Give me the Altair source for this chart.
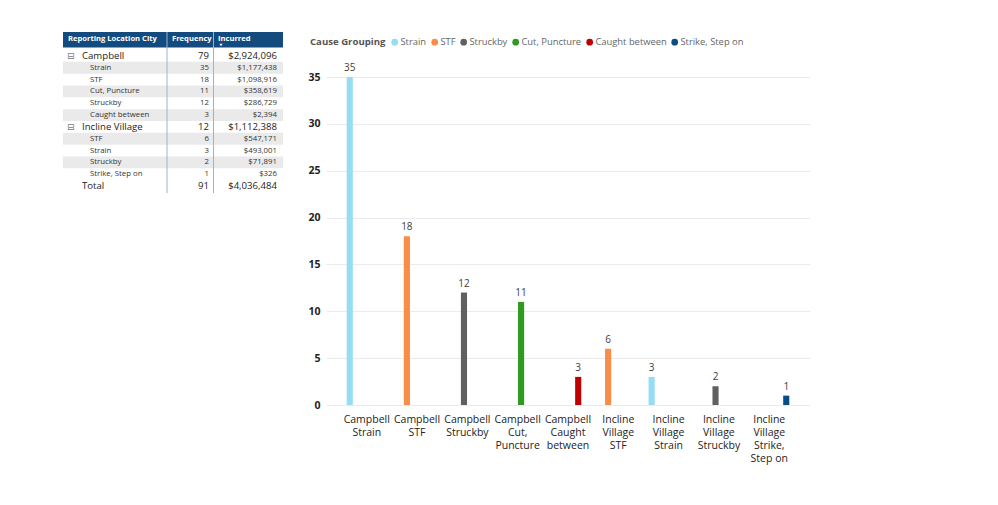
import altair as alt
import pandas as pd

FONT = "Segoe UI, Open Sans, sans-serif"

# ---------------- table data ----------------
tbl_headers = ["Reporting Location City", "Frequency", "Incurred"]
tbl_labels = ["Campbell", "Strain", "STF", "Cut, Puncture", "Struckby", "Caught between",
              "Incline Village", "STF", "Strain", "Struckby", "Strike, Step on", "Total"]
tbl_level = ["group", "sub", "sub", "sub", "sub", "sub",
             "group", "sub", "sub", "sub", "sub", "total"]
tbl_freq = [79, 35, 18, 11, 12, 3, 12, 6, 3, 2, 1, 91]
tbl_incurred = [2924096, 1177438, 1098916, 358619, 286729, 2394,
                1112388, 547171, 493001, 71891, 326, 4036484]

# ---------------- bar data ----------------
cause_order = ["Strain", "STF", "Struckby", "Cut, Puncture", "Caught between", "Strike, Step on"]
cause_colors = ["#94DDF5", "#F98D45", "#606060", "#2E9B1F", "#BF0000", "#0B4C85"]
bar_cause = ["Strain", "STF", "Struckby", "Cut, Puncture", "Caught between",
             "STF", "Strain", "Struckby", "Strike, Step on"]
bar_freq = [35, 18, 12, 11, 3, 6, 3, 2, 1]
bar_tick_lines = [["Campbell", "Strain"], ["Campbell", "STF"], ["Campbell", "Struckby"],
                  ["Campbell", "Cut,", "Puncture"], ["Campbell", "Caught", "between"],
                  ["Incline", "Village", "STF"], ["Incline", "Village", "Strain"],
                  ["Incline", "Village", "Struckby"], ["Incline", "Village", "Strike,", "Step on"]]

cat_names = ["|".join(l) for l in bar_tick_lines]

tdf = pd.DataFrame({
    "row": list(range(len(tbl_labels))),
    "label": tbl_labels,
    "level": tbl_level,
    "freq": tbl_freq,
    "incurred": tbl_incurred,
})
# alternate shading within sub rows of each group
shade = []
k = 0
for lv in tbl_level:
    if lv == "sub":
        shade.append(1 if k % 2 == 0 else 0)
        k += 1
    else:
        shade.append(0)
        k = 0
tdf["shade"] = shade

hdf = pd.DataFrame({"h": tbl_headers})

TW, TH = 220, 161
rowY = alt.Y("row:O", scale=alt.Scale(range=[18, 160], paddingInner=0, paddingOuter=0), axis=None)

tbase = alt.Chart(tdf)

bg = tbase.mark_rect(color="#EAEAEA").encode(
    y=rowY, x=alt.value(0), x2=alt.value(TW)
).transform_filter("datum.shade == 1")

hdr_rect = alt.Chart(hdf).mark_rect(color="#134B7F").encode(
    x=alt.value(0), x2=alt.value(TW), y=alt.value(0), y2=alt.value(15.5)
).transform_filter(f"datum.h == '{tbl_headers[0]}'")

def hdr_text(name, xpos):
    return alt.Chart(hdf).mark_text(
        align="left", baseline="middle", color="white", fontWeight="bold",
        fontSize=7.6, font=FONT
    ).encode(x=alt.value(xpos), y=alt.value(7), text="h:N").transform_filter(
        f"datum.h == '{name}'")

hdr_t = [hdr_text(tbl_headers[0], 5), hdr_text(tbl_headers[1], 109), hdr_text(tbl_headers[2], 155)]

sort_arrow = alt.Chart(hdf).mark_point(shape="triangle-down", filled=True, color="white",
                                       size=10, opacity=1).encode(
    x=alt.value(158), y=alt.value(13)
).transform_filter(f"datum.h == '{tbl_headers[2]}'")

sep1 = alt.Chart(hdf).mark_rule(color="#9DB3CC", strokeWidth=1).encode(
    x=alt.value(104), y=alt.value(0), y2=alt.value(TH)
).transform_filter(f"datum.h == '{tbl_headers[0]}'")
sep2 = alt.Chart(hdf).mark_rule(color="#9DB3CC", strokeWidth=1).encode(
    x=alt.value(150.5), y=alt.value(0), y2=alt.value(TH)
).transform_filter(f"datum.h == '{tbl_headers[0]}'")

icon = tbase.mark_text(text="⊟", align="left", baseline="middle", fontSize=9,
                       color="#777777", font="DejaVu Sans").encode(
    x=alt.value(4), y=rowY
).transform_filter("datum.level == 'group'")

GFS, SFS = 9.6, 7.8

grp_label = tbase.mark_text(align="left", baseline="middle", fontSize=GFS,
                            color="#252423", font=FONT).encode(
    x=alt.value(19), y=rowY, text="label:N"
).transform_filter("datum.level != 'sub'")
sub_label = tbase.mark_text(align="left", baseline="middle", fontSize=SFS,
                            color="#333333", font=FONT).encode(
    x=alt.value(27), y=rowY, text="label:N"
).transform_filter("datum.level == 'sub'")

grp_freq = tbase.mark_text(align="right", baseline="middle", fontSize=GFS,
                           color="#252423", font=FONT).encode(
    x=alt.value(146), y=rowY, text="freq:Q"
).transform_filter("datum.level != 'sub'")
sub_freq = tbase.mark_text(align="right", baseline="middle", fontSize=SFS,
                           color="#333333", font=FONT).encode(
    x=alt.value(146), y=rowY, text="freq:Q"
).transform_filter("datum.level == 'sub'")

grp_inc = tbase.mark_text(align="right", baseline="middle", fontSize=GFS,
                          color="#252423", font=FONT).encode(
    x=alt.value(214), y=rowY, text=alt.Text("incurred:Q", format="$,d")
).transform_filter("datum.level != 'sub'")
sub_inc = tbase.mark_text(align="right", baseline="middle", fontSize=SFS,
                          color="#333333", font=FONT).encode(
    x=alt.value(214), y=rowY, text=alt.Text("incurred:Q", format="$,d")
).transform_filter("datum.level == 'sub'")

table = alt.layer(bg, hdr_rect, *hdr_t, sort_arrow, sep1, sep2, icon,
                  grp_label, sub_label, grp_freq, sub_freq, grp_inc, sub_inc
                  ).properties(width=TW, height=TH)

# ---------------- bar chart ----------------
bdf = pd.DataFrame({"cat": cat_names, "cause": bar_cause, "freq": bar_freq})

BW, BH = 484, 373

x_enc = alt.X("cat:N", sort=cat_names, title=None,
              scale=alt.Scale(paddingInner=0, paddingOuter=0.31),
              axis=alt.Axis(labelExpr="split(datum.label, '|')", labelAngle=0, ticks=False,
                            domain=False, labelPadding=9, labelFontSize=10.5,
                            labelLineHeight=13, labelColor="#252423", labelFont=FONT,
                            labelBaseline="top"))
xo_enc = alt.XOffset("cause:N", sort=cause_order,
                     scale=alt.Scale(domain=cause_order, paddingInner=0.1, paddingOuter=0.75))
y_enc = alt.Y("freq:Q", title=None,
              scale=alt.Scale(domain=[0, 35], range=[BH, 45]),
              axis=alt.Axis(values=[0, 5, 10, 15, 20, 25, 30, 35], ticks=False, domain=False,
                            labelPadding=6, labelFontSize=10.5, labelFontWeight="bold",
                            labelColor="#252423", labelFont=FONT, gridColor="#EBEBEB"))

bars = alt.Chart(bdf).mark_bar().encode(
    x=x_enc, xOffset=xo_enc, y=y_enc,
    color=alt.Color("cause:N", scale=alt.Scale(domain=cause_order, range=cause_colors),
                    legend=alt.Legend(orient="none", legendX=-16, legendY=5,
                                      direction="horizontal", title="Cause Grouping",
                                      titleOrient="left", symbolType="circle", symbolSize=45,
                                      labelFontSize=9.4, titleFontSize=9.6,
                                      titleFontWeight="bold", titleColor="#555555",
                                      labelColor="#666666", columnPadding=3, labelOffset=1,
                                      titlePadding=4, labelFont=FONT, titleFont=FONT,
                                      symbolStrokeWidth=0))
)
labels = alt.Chart(bdf).mark_text(baseline="bottom", dy=-4, fontSize=10, color="#404040",
                                  font=FONT).encode(
    x=x_enc, xOffset=xo_enc, y=y_enc, text="freq:Q"
)
barchart = alt.layer(bars, labels).properties(width=BW, height=BH)

chart = alt.hconcat(table, barchart, spacing=24).resolve_legend(
    color="independent"
).properties(
    padding={"left": 63, "top": 31, "right": 5, "bottom": 5}
).configure_view(stroke=None)

chart.save("out.html", embed_options={"renderer": "svg", "actions": False})
